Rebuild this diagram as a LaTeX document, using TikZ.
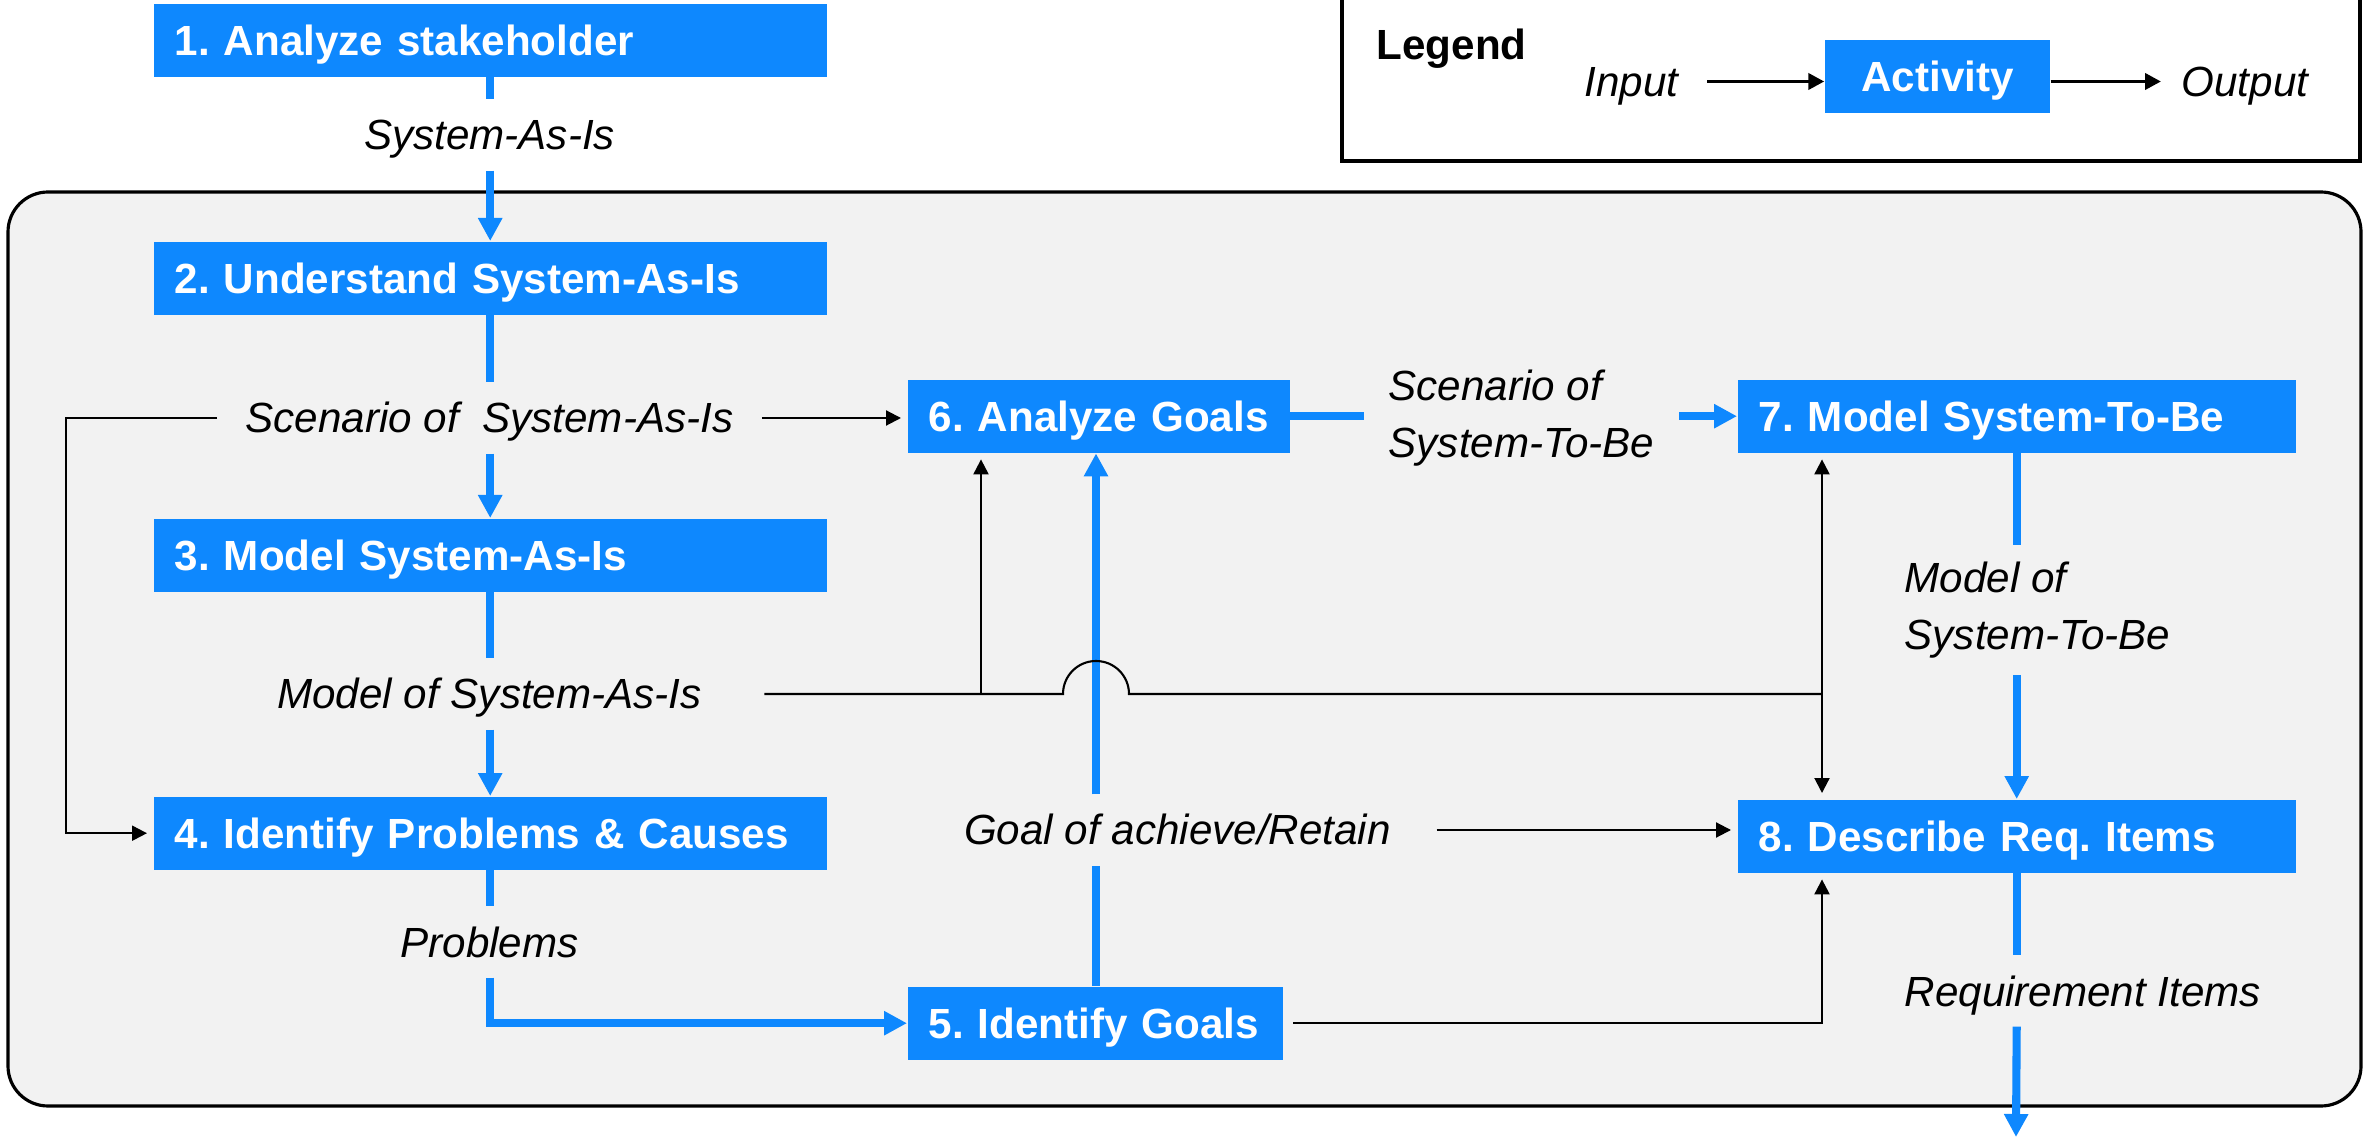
\documentclass[tikz,border=0pt]{standalone}
\usepackage{fontspec}
\setmainfont{Liberation Sans}
\usetikzlibrary{arrows.meta}
\definecolor{actblue}{RGB}{14,136,254}
\definecolor{panelgray}{RGB}{242,242,242}
\frenchspacing

\begin{document}
\begin{tikzpicture}[x=1cm, y=1cm,
  activity/.style={fill=actblue, text=white, anchor=north west,
    font=\bfseries\fontsize{12}{14}\selectfont, minimum height=0.73cm,
    text height=0.31cm, text depth=0pt,
    inner xsep=0.21cm, inner ysep=0pt, align=left},
  artefact/.style={font=\itshape\fontsize{12}{16.2}\selectfont, anchor=base,
    text height=0.42cm, text depth=0.12cm, inner xsep=0.28cm, inner ysep=0.08cm},
  artefacttwo/.style={font=\itshape\fontsize{12}{16.2}\selectfont, anchor=west,
    align=left, inner xsep=0.24cm, inner ysep=0.16cm},
  flowline/.style={actblue, line width=2.3pt},
  flow/.style={flowline, -{Triangle[length=0.23cm, width=0.23cm]}},
  linkline/.style={black, line width=0.6pt},
  link/.style={linkline, -{Triangle[length=0.15cm, width=0.15cm]}, shorten >=0.06cm},
  legarrow/.style={black, line width=1.1pt, -{Triangle[length=0.16cm, width=0.16cm]}}]
  \useasboundingbox (0,0) rectangle (23.64,-11.38);

  % panel and legend frame
  \draw[fill=panelgray, line width=0.9pt, rounded corners=0.4cm]
    (0.08,-1.92) rectangle (23.61,-11.06);
  \draw[line width=0.9pt] (13.42,0.1) rectangle (23.60,-1.61);

  % legend
  \node[font=\bfseries\fontsize{12}{14}\selectfont, anchor=base west, inner sep=0pt]
    (leghead) at (13.76,-0.60) {Legend};
  \node[artefact, anchor=base west] (legin) at (15.56,-0.965) {Input};
  \node[activity, anchor=center, align=center, minimum width=2.25cm]
    (legact) at (19.375,-0.765) {Activity};
  \node[artefact, anchor=base west, inner xsep=0.2cm] (legout) at (21.61,-0.965) {Output};
  \draw[legarrow] (legin.east) -- (legin.east -| legact.west);
  \draw[legarrow] (legin.east -| legact.east) -- (legout.west);

  % activities
  \node[activity, text width=6.31cm] (a1) at (1.53,-0.03) {1. Analyze stakeholder};
  \node[activity, text width=6.31cm] (a2) at (1.53,-2.41) {2. Understand System-As-Is};
  \node[activity, text width=6.31cm] (a3) at (1.53,-5.18) {3. Model System-As-Is};
  \node[activity, text width=6.31cm] (a4) at (1.53,-7.96) {4. Identify Problems \& Causes};
  \node[activity, text width=3.33cm] (a5) at (9.07,-9.86) {5. Identify Goals};
  \node[activity, text width=3.40cm] (a6) at (9.07,-3.79) {6. Analyze Goals};
  \node[activity, text width=5.16cm] (a7) at (17.37,-3.79) {7. Model System-To-Be};
  \node[activity, text width=5.16cm] (a8) at (17.37,-7.99) {8. Describe Req. Items};

  % artefacts
  \node[artefact] (l1) at (4.895,-1.50) {System-As-Is};
  \node[artefact] (l2) at (4.895,-4.33) {Scenario of\ \ System-As-Is};
  \node[artefact] (l3) at (4.895,-7.09) {Model of System-As-Is};
  \node[artefact] (l4) at (4.895,-9.57) {Problems};
  \node[artefact] (l5) at (11.775,-8.45) {Goal of achieve/Retain};
  \node[artefacttwo] (l6) at (13.64,-4.18) {Scenario of\\System-To-Be};
  \node[artefacttwo] (l7) at (18.80,-6.10) {Model of\\System-To-Be};
  \node[artefact, anchor=base west] (l8) at (18.76,-10.06) {Requirement Items};

  \coordinate (colF) at (0.66,0);
  \coordinate (colM) at (10.96,0);
  \coordinate (jL) at (9.81,-6.94);
  \coordinate (hopin) at (10.63,-6.94);
  \coordinate (jR) at (18.22,-6.94);
  \coordinate (reqout) at (20.16,-11.37);

  % main flow
  \draw[flowline] (a1.south) -- (a1.south |- l1.north);
  \draw[flow] (a1.south |- l1.south) -- (a2.north);
  \draw[flowline] (a2.south) -- (a2.south |- l2.north);
  \draw[flow] (a2.south |- l2.south) -- (a3.north);
  \draw[flowline] (a3.south) -- (a3.south |- l3.north);
  \draw[flow] (a3.south |- l3.south) -- (a4.north);
  \draw[flowline] (a4.south) -- (a4.south |- l4.north);
  \draw[flow] (a4.south |- l4.south) |- (a5.west);
  \draw[flowline] (a5.north -| colM) -- (l5.south -| colM);
  \draw[flow] (l5.north -| colM) -- (a6.south -| colM);
  \draw[flowline] (a6.east) -- (a6.east -| l6.west);
  \draw[flow] (a6.east -| l6.east) -- (a7.west);
  \draw[flowline] (a7.south) -- (a7.south |- l7.north);
  \draw[flow] (a7.south |- l7.south) -- (a8.north);
  \draw[flowline] (a8.south) -- (a8.south |- l8.north);
  \draw[flow] (a8.south |- l8.south) -- (reqout);

  % side inputs
  \draw[link] (l2.west) -| (colF |- a4.west) -- (a4.west);
  \draw[link] (l2.east) -- (l2.east -| a6.west);
  \draw[linkline, shorten <=0.34cm] (l3.east) -- (hopin)
    arc[start angle=180, end angle=0, radius=0.33] -- (jR);
  \draw[link] (jL) -- (jL |- a6.south);
  \draw[link] (jR) -- (jR |- a7.south);
  \draw[link] (jR) -- (jR |- a8.north);
  \draw[link, shorten <=0.17cm] (l5.east) -- (l5.east -| a8.west);
  \draw[link, shorten <=0.1cm] (a5.east) -| (jR |- a8.south);
\end{tikzpicture}
\end{document}
